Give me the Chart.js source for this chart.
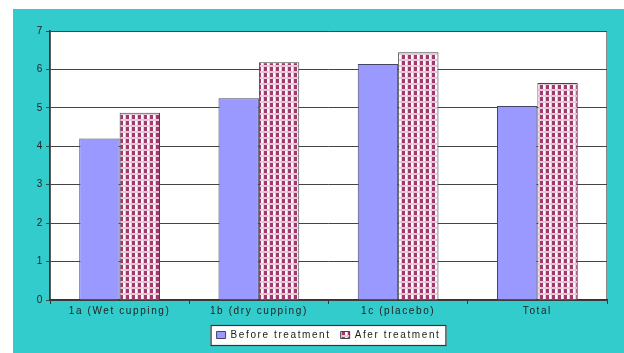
<!DOCTYPE html>
<html>
<head>
<meta charset="utf-8">
<script src="https://cdn.jsdelivr.net/npm/chart.js@4"></script>
<style>
  body { margin: 0; background: #ffffff; }
  #wrap { width: 624px; height: 353px; }
</style>
</head>
<body>
<div id="wrap"><canvas id="myChart" width="624" height="353"></canvas></div>
<script>
// chart data
var categories = ['1a (Wet cupping)', '1b (dry cupping)', '1c (placebo)', 'Total'];
var beforeValues = [4.2, 5.25, 6.14, 5.05];
var afterValues = [4.87, 6.19, 6.45, 5.65];
var seriesNames = ['Before treatment', 'Afer treatment'];
var yTicks = [0, 1, 2, 3, 4, 5, 6, 7];

// checkered maroon fill like the old excel pattern
function makePattern() {
  var c = document.createElement('canvas');
  c.width = 6; c.height = 6;
  var p = c.getContext('2d');
  p.fillStyle = '#e8c8d8';
  p.fillRect(0, 0, 6, 6);
  p.fillStyle = '#ffffff';
  p.fillRect(3, 1, 2, 4);
  p.fillStyle = '#a03a6c';
  p.fillRect(0, 1, 3, 4);
  return p.createPattern(c, 'repeat');
}
var pattern = makePattern();

// letter spacing, backgrounds, legend frame
var spacing = {
  id: 'spacing',
  beforeUpdate: function (chart) { chart.ctx.letterSpacing = '1.6px'; },
  afterLayout: function (chart) {
    // centre the legend under the plot area, not the canvas
    var lg = chart.legend;
    lg.left = chart.chartArea.left;
    lg.right = chart.chartArea.right;
    lg.width = lg.right - lg.left;
    lg.top += 2;
    lg.bottom += 2;
  },
  beforeDraw: function (chart) {
    var ctx = chart.ctx;
    ctx.letterSpacing = '1.6px';
    ctx.save();
    ctx.fillStyle = '#ffffff';
    ctx.fillRect(0, 0, chart.width, chart.height);
    ctx.fillStyle = '#33cccc';
    ctx.fillRect(13, 9, chart.width - 13, chart.height - 9);
    var a = chart.chartArea;
    ctx.fillStyle = '#ffffff';
    ctx.fillRect(a.left, a.top, a.right - a.left, a.bottom - a.top);
    ctx.strokeStyle = '#888888';
    ctx.lineWidth = 1;
    ctx.strokeRect(a.left + 0.5, a.top + 0.5, a.right - a.left - 1, a.bottom - a.top);
    // legend frame
    var lg = chart.legend;
    var pad = lg.options.labels.padding;
    var lw = lg.lineWidths[0];
    var start = (lg.left + pad + lg.right - lw) / 2;
    var end = start + lw - pad;
    var t = lg.top + pad - 5;
    var h = lg.options.labels.font.size + 10;
    ctx.fillStyle = '#ffffff';
    ctx.fillRect(start - 6, t, end - start + 12, h);
    ctx.strokeStyle = '#333333';
    ctx.lineWidth = 1.2;
    ctx.strokeRect(start - 5.5, t + 0.5, end - start + 11, h);
    ctx.restore();
  }
};

var ctx = document.getElementById('myChart').getContext('2d');
var myChart = new Chart(ctx, {
  type: 'bar',
  data: {
    labels: categories,
    datasets: [{
      label: seriesNames[0],
      data: beforeValues,
      backgroundColor: '#9999ff',
      borderColor: '#444466',
      borderWidth: 1
    }, {
      label: seriesNames[1],
      data: afterValues,
      backgroundColor: pattern,
      borderColor: '#444444',
      borderWidth: 1
    }]
  },
  plugins: [spacing],
  options: {
    responsive: false,
    animation: false,
    layout: { padding: { left: 13, top: 31, right: 17, bottom: 5 } },
    datasets: { bar: { categoryPercentage: 0.58, barPercentage: 1 } },
    plugins: {
      tooltip: { enabled: false },
      legend: {
        position: 'bottom',
        labels: {
          boxWidth: 9,
          boxHeight: 7,
          padding: 10,
          color: '#222222',
          font: { family: 'Liberation Sans, Arial', size: 10 }
        }
      }
    },
    scales: {
      x: {
        afterFit: function (s) { s.height = 18; },
        grid: { drawOnChartArea: false, offset: true, tickLength: 4, color: '#333333' },
        border: { color: '#333333', width: 1.5 },
        ticks: { color: '#222222', padding: 1, font: { family: 'Liberation Sans, Arial', size: 10 } }
      },
      y: {
        min: 0,
        max: 7,
        afterFit: function (s) { s.width = 37; },
        afterBuildTicks: function (s) { s.ticks = yTicks.map(function (v) { return { value: v }; }); },
        grid: { color: '#444444', lineWidth: 1, tickLength: 4 },
        border: { color: '#333333', width: 1.5 },
        ticks: { color: '#222222', padding: 2, font: { family: 'Liberation Sans, Arial', size: 10 } }
      }
    }
  }
});
</script>
</body>
</html>
